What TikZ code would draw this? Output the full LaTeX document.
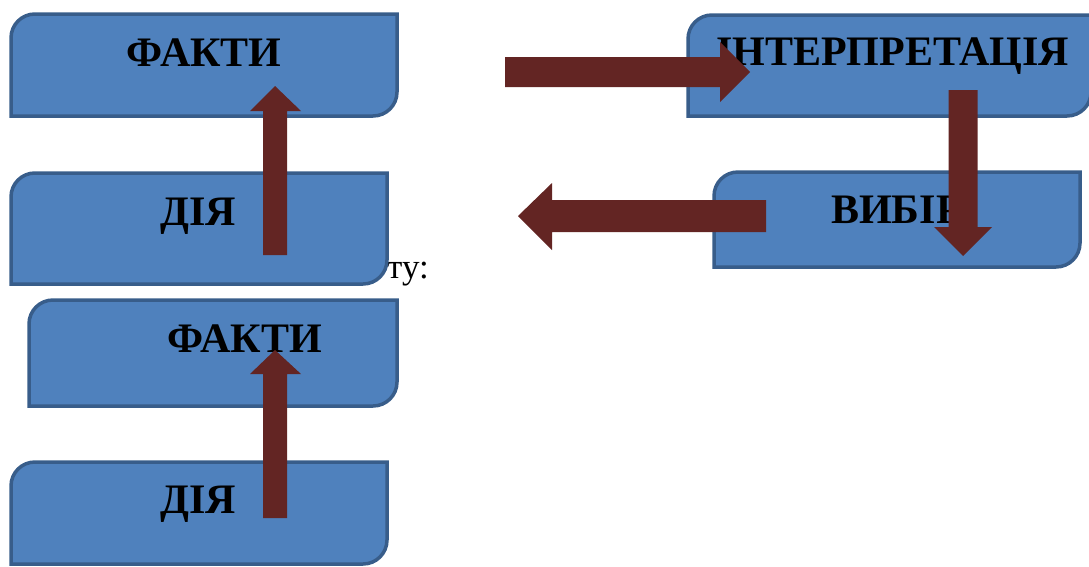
\documentclass[tikz,border=0pt]{standalone}
\usepackage{fontspec}
\setmainfont{Liberation Serif}
\usetikzlibrary{calc}
\definecolor{boxfill}{HTML}{4F81BD}
\definecolor{boxline}{HTML}{385D8A}
\definecolor{arrowfill}{HTML}{632523}
\newcommand\roundbox[4]{%
  \path[box] (#1,#4) -- (#1,#2+24) .. controls (#1,#2+10.7) and (#1+10.7,#2) .. (#1+24,#2)
    -- (#3,#2) -- (#3,#4-24) .. controls (#3,#4-10.7) and (#3-10.7,#4) .. (#3-24,#4) -- cycle;}
\begin{document}
\begin{tikzpicture}[x=1pt,y=-1pt,
  box/.style={fill=boxfill,draw=boxline,line width=3.5pt},
  lbl/.style={font=\fontsize{42}{48}\selectfont\bfseries,text=black,inner sep=0pt,anchor=base},
  bgtext/.style={font=\fontsize{35}{40}\selectfont,text=black,inner sep=0pt,anchor=base west},
  fatarrow/.style={fill=arrowfill,draw=none}]
\useasboundingbox (0,0) rectangle (1089,566);
% background document text
\node[bgtext] (bg) at (387,278) {ту:};
% boxes and labels
\roundbox{11}{14}{397}{116}
\node[lbl] (f1) at (204,66) {ФАКТИ};
\roundbox{11}{173}{387}{284}
\node[lbl] (d1) at (198,225) {ДІЯ};
\roundbox{688}{15}{1091}{116}
\node[lbl] (i1) at (892.5,65) {ІНТЕРПРЕТАЦІЯ};
\roundbox{714}{172}{1080}{267}
\node[lbl,anchor=base west] (v1) at (831,223) {ВИБІР};
\roundbox{29}{300}{397}{406}
\node[lbl] (f2) at (244.5,352) {ФАКТИ};
\roundbox{11}{462}{387}{564}
\node[lbl] (d2) at (198,513) {ДІЯ};
% arrow end points
\coordinate (u1t) at (275,255); \coordinate (u1h) at (275,86);
\coordinate (rt) at (505,72);   \coordinate (rh) at (750,72);
\coordinate (dt) at (963,90);   \coordinate (dh) at (963,256);
\coordinate (lt) at (766,216);  \coordinate (lh) at (518,216);
\coordinate (u2t) at (275,518); \coordinate (u2h) at (275,350);
% up arrow 1
\path[fatarrow] ($(u1t)+(-12,0)$) -- ($(u1h)+(-12,25)$) -- ($(u1h)+(-25,25)$) -- (u1h)
  -- ($(u1h)+(26,25)$) -- ($(u1h)+(12,25)$) -- ($(u1t)+(12,0)$) -- cycle;
% right arrow
\path[fatarrow] ($(rt)+(0,-15)$) -- ($(rh)+(-30,-15)$) -- ($(rh)+(-30,-30)$) -- (rh)
  -- ($(rh)+(-30,30)$) -- ($(rh)+(-30,15)$) -- ($(rt)+(0,15)$) -- cycle;
% down arrow
\path[fatarrow] ($(dt)+(-14.5,0)$) -- ($(dh)+(-14.5,-29)$) -- ($(dh)+(-29,-29)$) -- (dh)
  -- ($(dh)+(29,-29)$) -- ($(dh)+(14.5,-29)$) -- ($(dt)+(14.5,0)$) -- cycle;
% left arrow
\path[fatarrow] ($(lt)+(0,-16)$) -- ($(lh)+(34,-16)$) -- ($(lh)+(34,-33)$) -- (lh)
  -- ($(lh)+(34,34)$) -- ($(lh)+(34,16)$) -- ($(lt)+(0,16)$) -- cycle;
% up arrow 2
\path[fatarrow] ($(u2t)+(-12,0)$) -- ($(u2h)+(-12,24)$) -- ($(u2h)+(-25,24)$) -- (u2h)
  -- ($(u2h)+(26,24)$) -- ($(u2h)+(12,24)$) -- ($(u2t)+(12,0)$) -- cycle;
\end{tikzpicture}
\end{document}
